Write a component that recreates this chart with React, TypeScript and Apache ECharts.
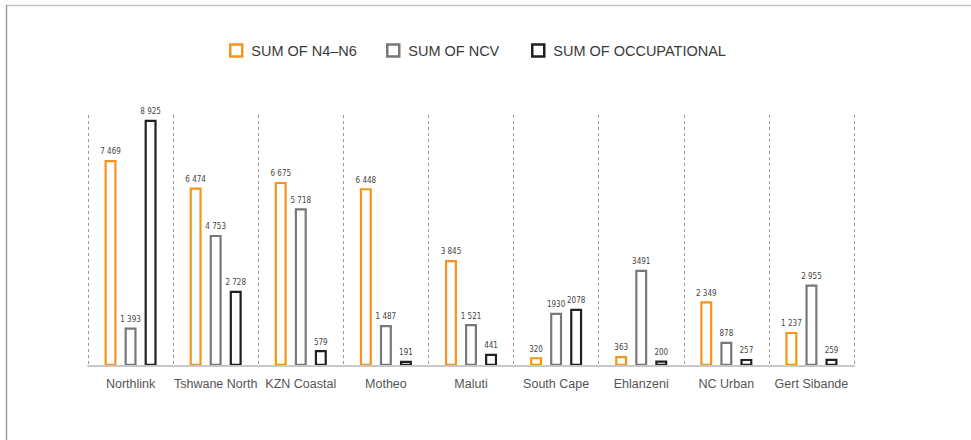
import React, { useEffect, useRef } from "react";
import * as echarts from "echarts";

const categories = [
  "Northlink",
  "Tshwane North",
  "KZN Coastal",
  "Motheo",
  "Maluti",
  "South Cape",
  "Ehlanzeni",
  "NC Urban",
  "Gert Sibande",
];

const seriesNames = ["SUM OF N4–N6", "SUM OF NCV", "SUM OF OCCUPATIONAL"];

const n4n6 = [7469, 6474, 6675, 6448, 3845, 320, 363, 2349, 1237];
const ncv = [1393, 4753, 5718, 1487, 1521, 1930, 3491, 878, 2955];
const occupational = [8925, 2728, 579, 191, 441, 2078, 200, 257, 259];

const n4n6Labels = ["7 469", "6 474", "6 675", "6 448", "3 845", "320", "363", "2 349", "1 237"];
const ncvLabels = ["1 393", "4 753", "5 718", "1 487", "1 521", "1930", "3491", "878", "2 955"];
const occupationalLabels = ["8 925", "2 728", "579", "191", "441", "2078", "200", "257", "259"];

const colors = ["#f7941d", "#77787b", "#231f20"];
const legendLefts = [224, 381, 526];

export default function App() {
  const ref = useRef<HTMLDivElement>(null);

  useEffect(() => {
    document.body.style.margin = "0";
    if (!ref.current) return;
    const chart = echarts.init(ref.current, null, { renderer: "svg" });
    const values = [n4n6, ncv, occupational];
    const labels = [n4n6Labels, ncvLabels, occupationalLabels];
    const labelFont = "'Liberation Sans Narrow', 'DejaVu Sans Condensed', sans-serif";

    chart.setOption({
      animation: false,
      backgroundColor: "#ffffff",
      legend: seriesNames.map((name, i) => ({
        top: 38,
        left: legendLefts[i],
        itemWidth: 12,
        itemHeight: 12,
        icon: "rect",
        itemStyle: { borderWidth: 2.5 },
        textStyle: {
          color: "#3a3a3a",
          fontSize: 14.5,
          fontFamily: "'Liberation Sans', Arial, sans-serif",
          padding: [0, 0, 0, 4],
        },
        data: [name],
      })),
      graphic: [
        {
          type: "line",
          shape: { x1: 6, y1: 5.5, x2: 971, y2: 5.5 },
          style: { stroke: "#c4c4c4", lineWidth: 1.5 },
          silent: true,
        },
        {
          type: "line",
          shape: { x1: 6.5, y1: 5, x2: 6.5, y2: 440 },
          style: { stroke: "#9a9a9a", lineWidth: 1.5 },
          silent: true,
        },
      ],
      grid: {
        left: 88,
        right: 971 - 854,
        top: 115,
        bottom: 74,
        containLabel: false,
      },
      xAxis: {
        type: "category",
        data: categories,
        boundaryGap: true,
        axisLine: { show: true, lineStyle: { color: "#c8c8c8", width: 2 } },
        axisTick: { show: false },
        axisLabel: {
          color: "#555555",
          fontSize: 12.5,
          margin: 11,
          interval: 0,
          fontFamily: "'Liberation Sans', Arial, sans-serif",
        },
        splitLine: {
          show: true,
          interval: 0,
          lineStyle: { color: "#9a9a9a", type: [3, 3], width: 1 },
        },
        z: 3,
      },
      yAxis: {
        type: "value",
        min: 0,
        max: 9100,
        show: false,
        splitLine: { show: false },
      },
      series: seriesNames.map((name, i) => ({
        name,
        type: "bar",
        data: values[i],
        barWidth: 12,
        barGap: "67%",
        itemStyle: {
          color: "#ffffff",
          borderColor: colors[i],
          borderWidth: 2.2,
        },
        label: {
          show: true,
          position: "top",
          distance: 4,
          color: "#444444",
          fontSize: 8,
          fontFamily: labelFont,
          formatter: (p: any) => labels[i][p.dataIndex],
        },
      })),
    });

    return () => {
      chart.dispose();
    };
  }, []);

  return <div ref={ref} style={{ width: 971, height: 440 }} />;
}
